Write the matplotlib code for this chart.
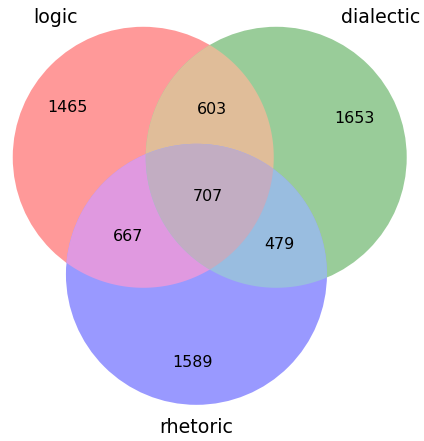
import numpy as np
import matplotlib
matplotlib.use('Agg')
import matplotlib.pyplot as plt
from matplotlib.patches import Circle, Polygon
from matplotlib.colors import to_rgb

# venn3 data, subset order: 100, 010, 110, 001, 101, 011, 111
set_labels = ['logic', 'dialectic', 'rhetoric']
subset_ids = ['100', '010', '110', '001', '101', '011', '111']
subset_sizes = [1465, 1653, 603, 1589, 667, 479, 707]
set_colors = ['r', 'g', 'b']
alpha = 0.4

sizes = dict(zip(subset_ids, subset_sizes))
total = float(sum(subset_sizes))


def set_area(i):
    return sum(v for k, v in sizes.items() if k[i] == '1') / total


def pair_area(i, j):
    return sum(v for k, v in sizes.items() if k[i] == '1' and k[j] == '1') / total


def lens_area(r1, r2, d):
    if d >= r1 + r2:
        return 0.0
    if d <= abs(r1 - r2):
        return np.pi * min(r1, r2) ** 2
    a1 = r1 ** 2 * np.arccos((d ** 2 + r1 ** 2 - r2 ** 2) / (2 * d * r1))
    a2 = r2 ** 2 * np.arccos((d ** 2 + r2 ** 2 - r1 ** 2) / (2 * d * r2))
    a3 = 0.5 * np.sqrt((-d + r1 + r2) * (d + r1 - r2) * (d - r1 + r2) * (d + r1 + r2))
    return a1 + a2 - a3


def find_distance(r1, r2, area):
    lo, hi = abs(r1 - r2), r1 + r2
    for _ in range(100):
        mid = (lo + hi) / 2
        if lens_area(r1, r2, mid) > area:
            lo = mid
        else:
            hi = mid
    return (lo + hi) / 2


# area proportional layout
radii = np.sqrt(np.array([set_area(i) for i in range(3)]) / np.pi)
d_ab = find_distance(radii[0], radii[1], pair_area(0, 1))
d_bc = find_distance(radii[1], radii[2], pair_area(1, 2))
d_ac = find_distance(radii[0], radii[2], pair_area(0, 2))
cx = (d_ab ** 2 + d_ac ** 2 - d_bc ** 2) / (2 * d_ab)
cy = -np.sqrt(d_ac ** 2 - cx ** 2)
centers = np.array([[0.0, 0.0], [d_ab, 0.0], [cx, cy]])
w = radii ** 2
centers -= (centers * w[:, None]).sum(0) / w.sum()

# colours: mix of set colours, alpha over white
base = [np.array(to_rgb(c)) for c in set_colors]


def mix(*cols):
    if len(cols) == 1:
        m = cols[0]
    elif len(cols) == 2:
        m = 0.7 * (cols[0] + cols[1])
    else:
        m = 0.4 * (cols[0] + cols[1] + cols[2])
    m = np.minimum(m, 1.0)
    return 1 - alpha + alpha * m


def in_circle(p, j):
    return np.hypot(p[:, 0] - centers[j][0], p[:, 1] - centers[j][1]) <= radii[j]


def disk_intersection(idx, n=2000):
    t = np.linspace(0, 2 * np.pi, n, endpoint=False)
    pts = []
    for i in idx:
        p = centers[i] + radii[i] * np.c_[np.cos(t), np.sin(t)]
        keep = np.ones(n, bool)
        for j in idx:
            if j != i:
                keep &= in_circle(p, j)
        pts.append(p[keep])
    pts = np.vstack(pts)
    m = pts.mean(0)
    order = np.argsort(np.arctan2(pts[:, 1] - m[1], pts[:, 0] - m[0]))
    return pts[order]


def region_arcs(key, n=3600):
    # boundary arcs of a region as lists of points
    t = np.linspace(0, 2 * np.pi, n, endpoint=False)
    arcs = []
    for i in range(3):
        p = centers[i] + radii[i] * np.c_[np.cos(t), np.sin(t)]
        ok = np.ones(n, bool)
        for j in range(3):
            if j != i:
                ok &= in_circle(p, j) == (key[j] == '1')
        if not ok.any():
            continue
        s = np.argmin(ok)  # start at a point off the region
        ok = np.roll(ok, -s)
        p = np.roll(p, -s, axis=0)
        run = []
        for q, flag in zip(p, ok):
            if flag:
                run.append(q)
            elif run:
                arcs.append(np.array(run))
                run = []
        if run:
            arcs.append(np.array(run))
    return arcs


def outer_label_pos(key):
    arcs = region_arcs(key)
    # chain the arcs into one boundary loop
    chain = [arcs.pop(0)]
    while arcs:
        end = chain[-1][-1]
        dist = [min(np.hypot(*(a[0] - end)), np.hypot(*(a[-1] - end))) for a in arcs]
        a = arcs.pop(int(np.argmin(dist)))
        if np.hypot(*(a[-1] - end)) < np.hypot(*(a[0] - end)):
            a = a[::-1]
        chain.append(a)
    poly = []
    for a in chain:
        poly.append(a[0])
        poly.append(a[len(a) // 2])
    poly = np.array(poly)
    x, y = poly[:, 0], poly[:, 1]
    x2, y2 = np.roll(x, -1), np.roll(y, -1)
    cr = x * y2 - x2 * y
    a2 = cr.sum()
    cen = np.array([((x + x2) * cr).sum(), ((y + y2) * cr).sum()]) / (3 * a2)
    big = max(chain, key=len)
    return (big[len(big) // 2] + cen) / 2


W, H = 424, 441
fig = plt.figure(figsize=(W / 100, H / 100), dpi=100)
ax = fig.add_axes([0, 0, 1, 1])
ax.set_axis_off()

scale = 130.5 / radii.max()
ox, oy = 205.3, 196.3
ax.set_xlim(-ox / scale, (W - ox) / scale)
ax.set_ylim(-(H - oy) / scale, oy / scale)

# single sets
for i in range(3):
    ax.add_patch(Circle(centers[i], radii[i], facecolor=mix(base[i]), edgecolor='none'))
# pairwise
for (i, j) in [(0, 1), (0, 2), (1, 2)]:
    ax.add_patch(Polygon(disk_intersection([i, j]), closed=True,
                         facecolor=mix(base[i], base[j]), edgecolor='none'))
# all three
ax.add_patch(Polygon(disk_intersection([0, 1, 2]), closed=True,
                     facecolor=mix(base[0], base[1], base[2]), edgecolor='none'))

# subset labels
g = np.linspace(-1, 1, 1001)
X, Y = np.meshgrid(g, g)
inside = [np.hypot(X - c[0], Y - c[1]) <= r for c, r in zip(centers, radii)]
for k, v in sizes.items():
    if k.count('1') == 1:
        lx, ly = outer_label_pos(k)
    else:
        mask = np.ones_like(X, bool)
        for i, ch in enumerate(k):
            mask &= inside[i] if ch == '1' else ~inside[i]
        lx, ly = X[mask].mean(), Y[mask].mean()
    ax.text(lx, ly, str(v), ha='center', va='center', fontsize=11.4)

# set labels
ax.text(centers[0][0] - radii[0] / 2, centers[0][1] + radii[0], set_labels[0],
        ha='right', va='bottom', fontsize=13.7)
ax.text(centers[1][0] + radii[1] / 2, centers[1][1] + radii[1], set_labels[1],
        ha='left', va='bottom', fontsize=13.7)
ax.text(centers[2][0], centers[2][1] - radii[2] * 1.1, set_labels[2],
        ha='center', va='top', fontsize=13.7)

fig.savefig('out.png', dpi=100)
